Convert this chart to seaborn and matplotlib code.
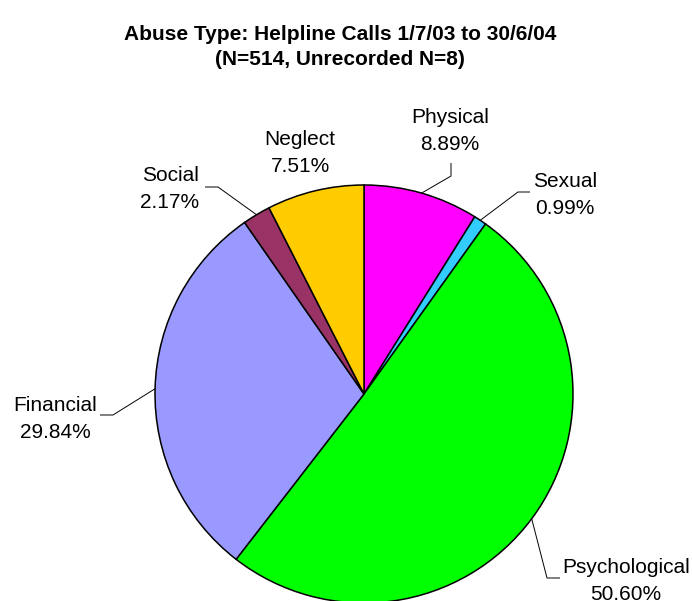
import numpy as np
import matplotlib
matplotlib.use("Agg")
import matplotlib.pyplot as plt
import seaborn as sns

# Abuse categories and their share of helpline calls (%)
categories = ["Physical", "Sexual", "Psychological", "Financial", "Social", "Neglect"]
shares = [8.89, 0.99, 50.60, 29.84, 2.17, 7.51]
colors_hex = ["#FF00FF", "#33CCFF", "#00FF00", "#9999FF", "#993366", "#FFCC00"]

title = "Abuse Type: Helpline Calls 1/7/03 to 30/6/04\n(N=514, Unrecorded N=8)"

sns.set_theme(style="white")
plt.rcParams["font.family"] = ["Liberation Sans", "DejaVu Sans"]
plt.rcParams["text.color"] = "black"

W, H = 692, 601
fig = plt.figure(figsize=(W / 100, H / 100), dpi=100)
ax = fig.add_axes([0, 0, 1, 1])


def px(x, y):
    """Convert pixel coordinates (origin top-left) to axes data coordinates."""
    return x, H - y


cx, cy = px(364, 394)
radius = 209
palette = sns.color_palette(colors_hex)

wedges, _ = ax.pie(
    shares,
    colors=palette,
    startangle=90,
    counterclock=False,
    center=(cx, cy),
    radius=radius,
    wedgeprops=dict(edgecolor="black", linewidth=1.1),
    frame=True,
)
ax.set_xlim(0, W)
ax.set_ylim(0, H)
ax.set_aspect("equal")
ax.axis("off")

# Label placement: text centre, and leader elbow / end points (None = no leader)
label_pos = {
    "Physical": ((450, 131), [(451, 176), (451, 163)]),
    "Sexual": ((565, 195), [(518, 192), (530, 192)]),
    "Psychological": ((626, 581), [(547, 578), (560, 578)]),
    "Financial": ((55, 419), [(113, 415), (100, 415)]),
    "Social": ((170, 189), [(218, 187), (205, 187)]),
    "Neglect": ((300, 153), None),
}

for w, name, val in zip(wedges, categories, shares):
    mid = np.deg2rad((w.theta1 + w.theta2) / 2)
    ex, ey = cx + radius * np.cos(mid), cy + radius * np.sin(mid)
    (tx, ty), leader = label_pos[name]
    tx, ty = px(tx, ty)
    ax.text(tx, ty, f"{name}\n{val:.2f}%", ha="center", va="center",
            fontsize=15, color="black", multialignment="center",
            linespacing=1.55)
    if leader is not None:
        pts = [(ex, ey)] + [px(*p) for p in leader]
        xs, ys = zip(*pts)
        ax.plot(xs, ys, color="black", linewidth=0.7, solid_capstyle="butt")

fig.text(340 / W, 1 - 47 / H, title, ha="center", va="center",
         fontsize=15, fontweight="bold", linespacing=1.45, color="black")

fig.savefig("out.png", dpi=100, facecolor="white")
